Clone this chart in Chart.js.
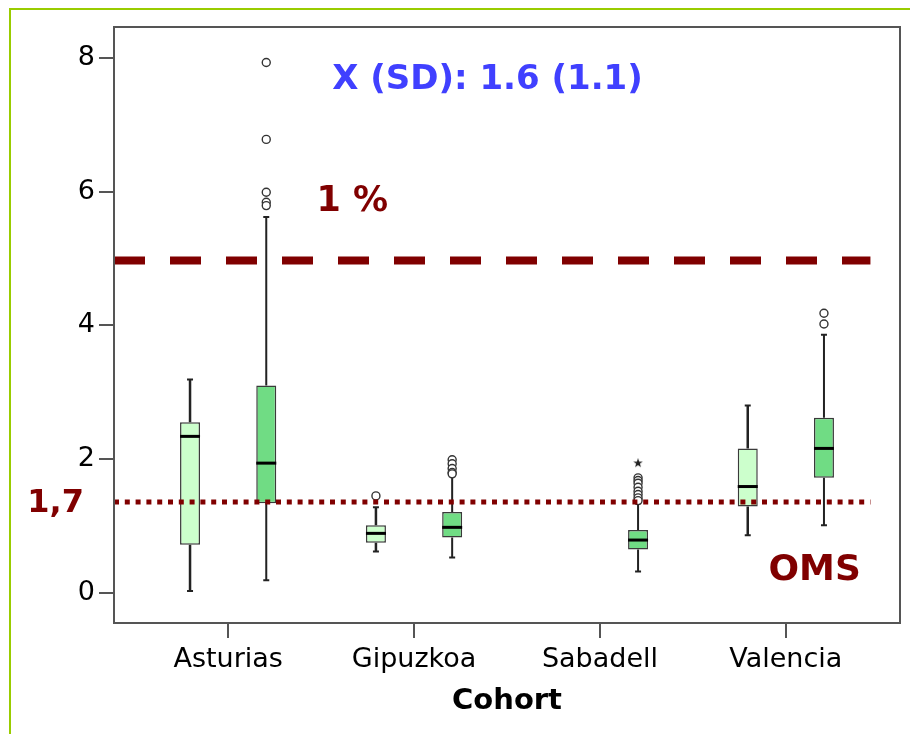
<!DOCTYPE html>
<html>
<head>
<meta charset="utf-8">
<title>Cohort boxplot</title>
<script src="https://cdn.jsdelivr.net/npm/chart.js@4/dist/chart.umd.min.js"></script>
<style>
    body { margin: 0; background: #fff; }
    #wrap { position: relative; width: 910px; height: 734px; }
    #frame { position: absolute; left: 9px; top: 8px; right: 0; bottom: 0;
             border-left: 2px solid #99cc00; border-top: 2px solid #99cc00; pointer-events: none; }
</style>
</head>
<body>
<div id="wrap">
    <canvas id="boxChart" width="910" height="734"></canvas>
    <div id="frame"></div>
</div>
<script>
// Categories and tick labels
const cohorts = ['Asturias', 'Gipuzkoa', 'Sabadell', 'Valencia'];
const yTicks = [0, 2, 4, 6, 8];

// Light green boxes (no box for Sabadell)
const lightMin    = [0.03, 0.62, null, 0.86];
const lightQ1     = [0.72, 0.75, null, 1.29];
const lightMedian = [2.34, 0.89, null, 1.59];
const lightQ3     = [2.55, 1.01, null, 2.16];
const lightMax    = [3.19, 1.28, null, 2.80];
const lightOutliers = [[], [1.45], [], []];

// Dark green boxes
const darkMin    = [0.19, 0.53, 0.32, 1.01];
const darkQ1     = [1.34, 0.83, 0.65, 1.72];
const darkMedian = [1.94, 0.98, 0.79, 2.16];
const darkQ3     = [3.10, 1.21, 0.94, 2.62];
const darkMax    = [5.62, 1.76, 1.34, 3.86];
const darkOutliers = [[7.93, 6.78, 5.99, 5.84, 5.79], [1.99, 1.93, 1.86, 1.80, 1.78],
                      [1.72, 1.68, 1.64, 1.58, 1.52, 1.47, 1.42, 1.38], [4.18, 4.02]];
const darkExtremes = [[], [], [1.94], []];

// Reference lines and notes
const highLimit = 4.97;   // "1 %" line
const omsLimit = 1.36;    // OMS line, labelled 1,7
const meanText = 'X (SD): 1.6 (1.1)';

const boxShift = 0.205;
const xMin = -0.614, xMax = 3.614, lineEnd = 3.455;
const darkRed = '#800000';

const groups = [
    { shift: -boxShift, min: lightMin, q1: lightQ1, med: lightMedian, q3: lightQ3, max: lightMax, whisker: 2.5, fill: '#ccffcc' },
    { shift: boxShift, min: darkMin, q1: darkQ1, med: darkMedian, q3: darkQ3, max: darkMax, whisker: 2, fill: '#70dc84' }
];

function boxData(g) {
    const out = [];
    cohorts.forEach((c, i) => {
        if (g.q1[i] !== null) out.push({ x: i + g.shift, y: [g.q1[i], g.q3[i]] });
    });
    return out;
}

function pointData(list, shift) {
    const out = [];
    list.forEach((vals, i) => vals.forEach(v => out.push({ x: i + shift, y: v })));
    return out;
}

function starImage(size) {
    const c = document.createElement('canvas');
    c.width = c.height = size;
    const g = c.getContext('2d');
    g.fillStyle = '#222';
    g.beginPath();
    for (let i = 0; i < 10; i++) {
        const r = i % 2 ? size * 0.2 : size * 0.5;
        const a = -Math.PI / 2 + i * Math.PI / 5;
        g.lineTo(size / 2 + r * Math.cos(a), size / 2 + r * Math.sin(a));
    }
    g.closePath();
    g.fill();
    return c;
}

// Whiskers, caps, medians, frame and notes
const boxParts = {
    id: 'boxParts',
    beforeDatasetsDraw(chart) {
        const ctx = chart.ctx, xs = chart.scales.x, ys = chart.scales.y;
        ctx.save();
        ctx.strokeStyle = '#222';
        groups.forEach(g => {
            cohorts.forEach((c, i) => {
                if (g.q1[i] === null) return;
                const px = xs.getPixelForValue(i + g.shift);
                ctx.lineWidth = g.whisker;
                ctx.beginPath();
                ctx.moveTo(px, ys.getPixelForValue(g.min[i]));
                ctx.lineTo(px, ys.getPixelForValue(g.q1[i]));
                ctx.moveTo(px, ys.getPixelForValue(g.q3[i]));
                ctx.lineTo(px, ys.getPixelForValue(g.max[i]));
                ctx.stroke();
                ctx.lineWidth = 2;
                ctx.beginPath();
                [g.min[i], g.max[i]].forEach(v => {
                    const py = ys.getPixelForValue(v);
                    ctx.moveTo(px - 3, py);
                    ctx.lineTo(px + 3, py);
                });
                ctx.stroke();
            });
        });
        ctx.restore();
    },
    afterDatasetsDraw(chart) {
        const ctx = chart.ctx, xs = chart.scales.x, ys = chart.scales.y, a = chart.chartArea;
        ctx.save();
        ctx.strokeStyle = '#000';
        ctx.lineWidth = 3;
        groups.forEach(g => {
            cohorts.forEach((c, i) => {
                if (g.med[i] === null) return;
                const px = xs.getPixelForValue(i + g.shift);
                const py = ys.getPixelForValue(g.med[i]);
                ctx.beginPath();
                ctx.moveTo(px - 10, py);
                ctx.lineTo(px + 10, py);
                ctx.stroke();
            });
        });

        ctx.strokeStyle = '#555';
        ctx.lineWidth = 2;
        ctx.strokeRect(a.left, a.top, a.right - a.left, a.bottom - a.top);

        ctx.textAlign = 'center';
        ctx.textBaseline = 'middle';
        ctx.font = 'bold 34px "DejaVu Sans"';
        ctx.fillStyle = '#4040ff';
        ctx.fillText(meanText, xs.getPixelForValue(1.395), ys.getPixelForValue(7.67));

        ctx.fillStyle = darkRed;
        ctx.font = 'bold 35px "DejaVu Sans"';
        ctx.fillText('1 %', xs.getPixelForValue(0.668), ys.getPixelForValue(5.84));
        ctx.font = 'bold 36px "DejaVu Sans"';
        ctx.fillText('OMS', xs.getPixelForValue(3.155), ys.getPixelForValue(0.33));
        ctx.font = 'bold 32px "DejaVu Sans"';
        ctx.textAlign = 'right';
        ctx.fillText('1,7', a.left - 30, ys.getPixelForValue(omsLimit) + 2);
        ctx.restore();
    }
};

const ctx = document.getElementById('boxChart').getContext('2d');
new Chart(ctx, {
    type: 'bar',
    data: {
        datasets: [
            {
                type: 'line',
                data: [{ x: xMin, y: highLimit }, { x: lineEnd, y: highLimit }],
                borderColor: darkRed,
                borderWidth: 8,
                borderDash: [31, 25],
                borderCapStyle: 'butt',
                pointRadius: 0,
                order: 1
            },
            {
                type: 'line',
                data: [{ x: xMin, y: omsLimit }, { x: lineEnd, y: omsLimit }],
                borderColor: darkRed,
                borderWidth: 5,
                borderDash: [5, 5.8],
                borderCapStyle: 'butt',
                pointRadius: 0,
                order: 1
            },
            ...groups.map(g => ({
                data: boxData(g),
                backgroundColor: g.fill,
                borderColor: '#3a3a3a',
                borderWidth: 1.5,
                borderSkipped: false,
                grouped: false,
                maxBarThickness: 20,
                order: 3
            })),
            {
                type: 'scatter',
                data: pointData(lightOutliers, -boxShift).concat(pointData(darkOutliers, boxShift)),
                pointStyle: 'circle',
                pointRadius: 4,
                backgroundColor: '#fff',
                borderColor: '#333',
                borderWidth: 1.4,
                order: 2
            },
            {
                type: 'scatter',
                data: pointData(darkExtremes, boxShift),
                pointStyle: starImage(10),
                order: 2
            }
        ]
    },
    options: {
        responsive: false,
        animation: false,
        layout: { padding: { left: 0, top: 27, right: 10, bottom: 0 } },
        plugins: {
            legend: { display: false },
            tooltip: { enabled: false }
        },
        scales: {
            x: {
                type: 'linear',
                min: xMin,
                max: xMax,
                offset: false,
                afterBuildTicks: s => { s.ticks = cohorts.map((c, i) => ({ value: i })); },
                afterFit: s => { s.height = 111; },
                grid: { offset: false, drawOnChartArea: false, tickLength: 15, color: '#555', lineWidth: 2 },
                border: { display: false },
                ticks: {
                    callback: v => cohorts[v],
                    font: { family: 'DejaVu Sans', size: 27 },
                    color: '#000',
                    padding: 6,
                    maxRotation: 0
                },
                title: {
                    display: true,
                    text: 'Cohort',
                    font: { family: 'DejaVu Sans', size: 29, weight: 'bold' },
                    color: '#000',
                    padding: { top: 0, bottom: 15 }
                }
            },
            y: {
                min: -0.45,
                max: 8.46,
                afterBuildTicks: s => { s.ticks = yTicks.map(v => ({ value: v })); },
                afterFit: s => { s.width = 114; },
                grid: { drawOnChartArea: false, tickLength: 15, color: '#555', lineWidth: 2 },
                border: { display: false },
                ticks: {
                    font: { family: 'DejaVu Sans', size: 27 },
                    color: '#000',
                    padding: 4
                }
            }
        }
    },
    plugins: [boxParts]
});
</script>
</body>
</html>
